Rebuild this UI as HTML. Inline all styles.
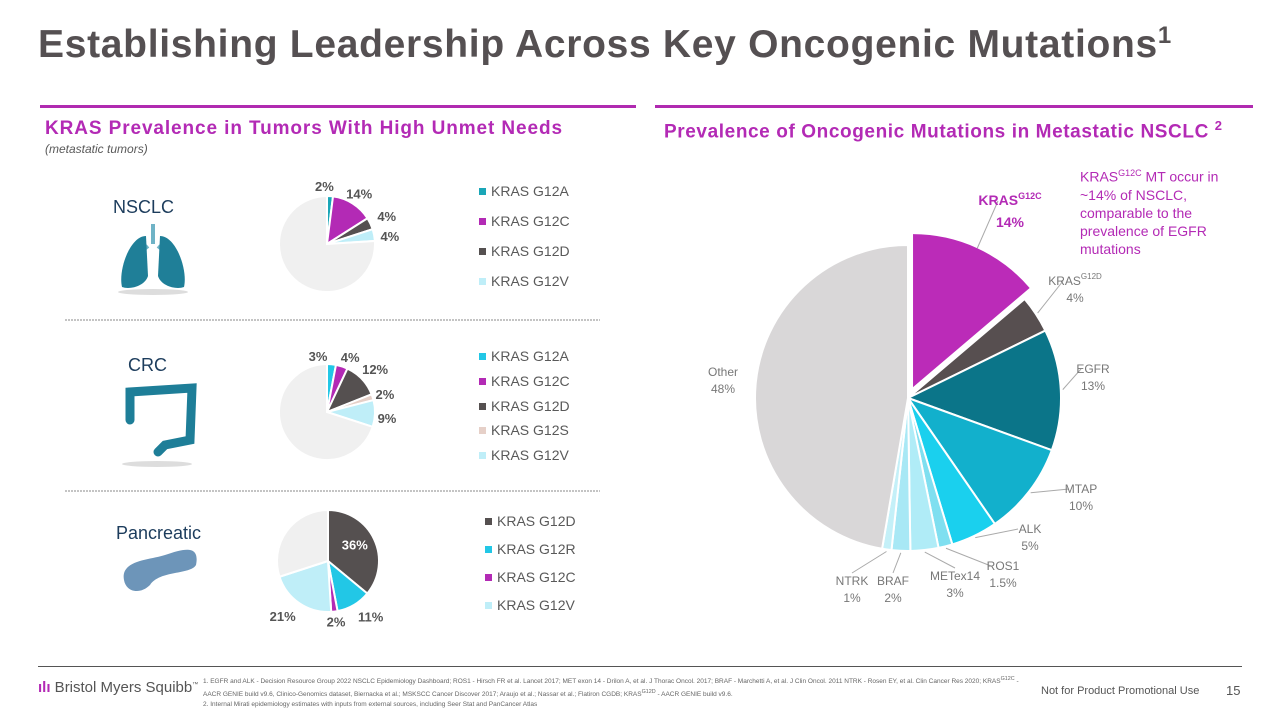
<!DOCTYPE html>
<html><head><meta charset="utf-8">
<style>
body{margin:0;width:1280px;height:720px;background:#fff;font-family:"Liberation Sans",sans-serif;overflow:hidden;position:relative}
.abs{position:absolute}
.leg{position:absolute;font-size:14px;color:#595959;white-space:nowrap}
.leg i{display:inline-block;width:7px;height:7px;margin-right:5px;vertical-align:1px}
</style></head><body>
<div class="abs" style="left:38px;top:22px;font-size:39px;font-weight:bold;color:#555052;letter-spacing:0.7px">Establishing Leadership Across Key Oncogenic Mutations<sup style="font-size:24px">1</sup></div>
<div class="abs" style="left:40px;top:105px;width:596px;height:3px;background:#b02ab0"></div>
<div class="abs" style="left:655px;top:105px;width:598px;height:3px;background:#b02ab0"></div>
<div class="abs" style="left:45px;top:118px;font-size:19px;font-weight:bold;color:#b32ab5;letter-spacing:0.9px">KRAS Prevalence in Tumors With High Unmet Needs</div>
<div class="abs" style="left:45px;top:142px;font-size:12px;font-style:italic;color:#595959">(metastatic tumors)</div>
<div class="abs" style="left:664px;top:118px;font-size:19px;font-weight:bold;color:#b32ab5;letter-spacing:0.6px">Prevalence of Oncogenic Mutations in Metastatic NSCLC <sup style="font-size:13px">2</sup></div>

<div class="abs" style="left:113px;top:197px;font-size:18px;color:#1c3c5c">NSCLC</div>
<div class="abs" style="left:128px;top:355px;font-size:18px;color:#1c3c5c">CRC</div>
<div class="abs" style="left:116px;top:523px;font-size:18px;color:#1c3c5c">Pancreatic</div>
<svg class="abs" style="left:0;top:0" width="1280" height="720" id="svg">
  <g>
    <ellipse cx="153" cy="292" rx="35" ry="3" fill="#ddd"/>
    <path d="M153 224 L153 244 M148 246 L136 256 M158 246 L170 256" stroke="#6fb3c6" stroke-width="4" fill="none"/>
    <path d="M146 236 C130 236 118 270 122 287 C130 290 145 286 148 276 Z" fill="#1f7f98"/>
    <path d="M160 236 C176 236 188 270 184 287 C176 290 161 286 158 276 Z" fill="#1f7f98"/>
  </g>
  <g>
    <ellipse cx="157" cy="464" rx="35" ry="3" fill="#ddd"/>
    <path d="M130 420 L130 392 L192 388 L190 440 L165 445 L158 452" stroke="#1e7e98" stroke-width="9" fill="none" stroke-linecap="round"/>
  </g>
  <g>
    <path d="M124 580 C120 560 150 560 165 555 C185 548 200 545 196 565 C190 575 160 570 150 585 C140 595 126 592 124 580 Z" fill="#6d95b9"/>
  </g>
  <line x1="65" y1="320" x2="600" y2="320" stroke="#888" stroke-dasharray="2,1"/>
  <line x1="65" y1="491" x2="600" y2="491" stroke="#888" stroke-dasharray="2,1"/>
  <g id="pies"></g>
</svg>

<div class="leg" style="left:479px;top:183px"><i style="background:#1aa6b7"></i>KRAS G12A</div>
<div class="leg" style="left:479px;top:213px"><i style="background:#b32ab5"></i>KRAS G12C</div>
<div class="leg" style="left:479px;top:243px"><i style="background:#555050"></i>KRAS G12D</div>
<div class="leg" style="left:479px;top:273px"><i style="background:#bfeef8"></i>KRAS G12V</div>
<div class="leg" style="left:479px;top:348px"><i style="background:#22c7e6"></i>KRAS G12A</div>
<div class="leg" style="left:479px;top:373px"><i style="background:#b32ab5"></i>KRAS G12C</div>
<div class="leg" style="left:479px;top:398px"><i style="background:#555050"></i>KRAS G12D</div>
<div class="leg" style="left:479px;top:422px"><i style="background:#e6d0c8"></i>KRAS G12S</div>
<div class="leg" style="left:479px;top:447px"><i style="background:#bfeef8"></i>KRAS G12V</div>
<div class="leg" style="left:485px;top:513px"><i style="background:#555050"></i>KRAS G12D</div>
<div class="leg" style="left:485px;top:541px"><i style="background:#22c7e6"></i>KRAS G12R</div>
<div class="leg" style="left:485px;top:569px"><i style="background:#b32ab5"></i>KRAS G12C</div>
<div class="leg" style="left:485px;top:597px"><i style="background:#bfeef8"></i>KRAS G12V</div>

<div class="abs" style="left:1080px;top:164px;font-size:14px;line-height:18px;color:#b32ab5;width:170px">KRAS<sup style="font-size:9px">G12C</sup> MT occur in ~14% of NSCLC, comparable to the prevalence of EGFR mutations</div>

<div class="abs" style="left:38px;top:666px;width:1204px;height:1px;background:#555"></div>
<div class="abs" style="left:38px;top:679px;font-size:15px;color:#555"><span style="color:#b32ab5;font-weight:bold">ılı</span> Bristol Myers Squibb<sup style="font-size:6px">™</sup></div>
<div class="abs" style="left:203px;top:674px;width:830px;font-size:6.5px;line-height:10px;color:#666">1. EGFR and ALK - Decision Resource Group 2022 NSCLC Epidemiology Dashboard; ROS1 - Hirsch FR et al. Lancet 2017; MET exon 14 - Drilon A, et al. J Thorac Oncol. 2017; BRAF - Marchetti A, et al. J Clin Oncol. 2011 NTRK - Rosen EY, et al. Clin Cancer Res 2020; KRAS<sup>G12C</sup> - AACR GENIE build v9.6, Clinico-Genomics dataset, Biernacka et al.; MSKSCC Cancer Discover 2017; Araujo et al.; Nassar et al.; Flatiron CGDB; KRAS<sup>G12D</sup> - AACR GENIE build v9.6.<br>2. Internal Mirati epidemiology estimates with inputs from external sources, including Seer Stat and PanCancer Atlas</div>
<div class="abs" style="left:1041px;top:685px;font-size:11px;color:#555">Not for Product Promotional Use</div>
<div class="abs" style="left:1226px;top:683px;font-size:13px;color:#555">15</div>

<script>
const nsclcValues=[2,14,4,4,76];
const nsclcLabels=["2%","14%","4%","4%",""];
const crcValues=[3,4,12,2,9,70];
const crcLabels=["3%","4%","12%","2%","9%",""];
const pancValues=[36,11,2,21,30];
const pancLabels=["36%","11%","2%","21%",""];
const nsclcNames=["g12a","g12c","g12d","g12v","other"];
const crcNames=["g12a","g12c","g12d","g12s","g12v","other"];
const pancNames=["g12d","g12r","g12c","g12v","other"];
const bigCategories=["KRAS G12C","KRAS G12D","EGFR","MTAP","ALK","ROS1","METex14","BRAF","NTRK","Other"];
const bigValues=[14,4,13,10,5,1.5,3,2,1,48];
const bigValueLabels=["14%","4%","13%","10%","5%","1.5%","3%","2%","1%","48%"];

const NS="http://www.w3.org/2000/svg";
const g=document.getElementById('pies');
function mk(t,a){const e=document.createElementNS(NS,t);for(const k in a)e.setAttribute(k,a[k]);return e;}
function pt(cx,cy,r,a){return [cx+r*Math.sin(a),cy-r*Math.cos(a)];}
function wedge(cx,cy,r,a0,a1,fill){
  const p0=pt(cx,cy,r,a0),p1=pt(cx,cy,r,a1);
  return mk('path',{d:`M${cx},${cy} L${p0[0]},${p0[1]} A${r},${r} 0 ${a1-a0>Math.PI?1:0} 1 ${p1[0]},${p1[1]} Z`,fill:fill,stroke:'#fff','stroke-width':2});
}
function smallPie(vals,labels,names,colors,cx,cy,r,prefix,labelColors,labelR,nudge){
  const tot=vals.reduce((a,b)=>a+b,0);let a=0;
  vals.forEach((v,i)=>{
    const a0=a,a1=a+v/tot*2*Math.PI;a=a1;
    const w=wedge(cx,cy,r,a0,a1,colors[i]);
    
    
    g.appendChild(w);
    if(labels[i]){
      const mid=(a0+a1)/2;const lr=labelR[i];const p=pt(cx,cy,lr,mid);
      const n=nudge[i]||[0,0];
      const t=mk('text',{x:p[0]+n[0],y:p[1]+5+n[1],'text-anchor':'middle','font-size':13,'font-weight':'bold',fill:labelColors[i]});
      t.textContent=labels[i];
      
      
      g.appendChild(t);
    }
  });
}
smallPie(nsclcValues,nsclcLabels,nsclcNames,["#1aa6b7","#b32ab5","#555050","#bfeef8","#f0f0f0"],327,244,48,'nsclc',["#555","#555","#555","#555"],[54,60,66,64],[[-6,-4],[0,0],[0,0],[0,4]]);
smallPie(crcValues,crcLabels,crcNames,["#22c7e6","#b32ab5","#555050","#e6d0c8","#bfeef8","#f0f0f0"],327,412,48,'crc',["#555","#555","#555","#555","#555"],[54,62,66,64,64],[[-14,-2],[4,4],[0,2],[-3,2],[-4,4]]);
smallPie(pancValues,pancLabels,pancNames,["#555050","#22c7e6","#b32ab5","#bfeef8","#f0f0f0"],328,561,51,'panc',["#fff","#555","#555","#555"],[34,68,64,70],[[-4,-2],[8,-3],[0,-3],[-6,-3]]);

const bigColors=["#bb2bb8","#574f50","#0b7589","#12b0cc","#1ad0ee","#7fdff0","#b0ecf7","#a8e8f5","#c4f0f8","#d9d7d8"];
const bigLabelLayout=[[1010,205],[1075,285],[1093,373],[1081,493],[1030,533],[1003,570],[955,580],[893,585],[852,585],[723,376]];
(function(){
  const cx=908,cy=398,r=153;const tot=bigValues.reduce((a,b)=>a+b,0);let a=0;
  bigValues.forEach((v,i)=>{
    const a0=a,a1=a+v/tot*2*Math.PI;a=a1;const mid=(a0+a1)/2;
    const off=i===0?12:0;const c=pt(cx,cy,off,mid);
    const w=wedge(c[0],c[1],r,a0,a1,bigColors[i]);
    w.setAttribute('stroke-width',i===0?0:2);
    
    
    g.appendChild(w);
    const L=bigLabelLayout[i];const ep=pt(cx,cy,r+(i===0?12:2),mid);
    if(i!==9){
      const ln=mk('polyline',{points:`${ep[0]},${ep[1]} ${L[0]-(i>=6?0:12)},${L[1]+(i>=6?-12:-4)}`,stroke:'#aaa','stroke-width':1,fill:'none'});
      
      
      g.appendChild(ln);
    }
    const isK=bigCategories[i].startsWith('KRAS');
    const t=mk('text',{x:L[0],y:L[1],'text-anchor':'middle','font-size':i===0?14:12,'font-weight':i===0?'bold':'normal',fill:i===0?'#b32ab5':'#777'});
    if(isK){
      const s1=mk('tspan',{});s1.textContent='KRAS';t.appendChild(s1);
      const s2=mk('tspan',{'font-size':i===0?9:8,dy:-6});s2.textContent=bigCategories[i].split(' ')[1];t.appendChild(s2);
    }else t.textContent=bigCategories[i];
    
    
    g.appendChild(t);
    const t2=mk('text',{x:L[0],y:L[1]+(i===0?22:17),'text-anchor':'middle','font-size':i===0?14:12,'font-weight':i===0?'bold':'normal',fill:i===0?'#b32ab5':'#777'});
    t2.textContent=bigValueLabels[i];
    
    
    g.appendChild(t2);
  });
})();
</script>
</body></html>
